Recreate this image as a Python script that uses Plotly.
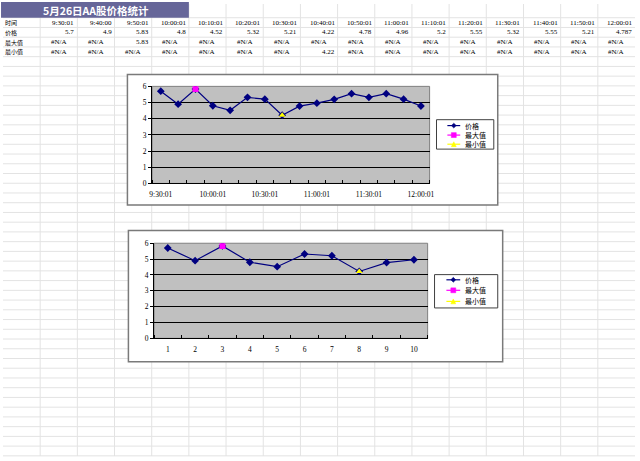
import plotly.graph_objects as go

# ---------------- data ----------------
title_text = "5月26日AA股价格统计"
row_labels = ["时间", "价格", "最大值", "最小值"]
times = ["9:30:01", "9:40:00", "9:50:01", "10:00:01", "10:10:01", "10:20:01",
         "10:30:01", "10:40:01", "10:50:01", "11:00:01", "11:10:01", "11:20:01",
         "11:30:01", "11:40:01", "11:50:01", "12:00:01"]
prices = [5.7, 4.9, 5.83, 4.8, 4.52, 5.32, 5.21, 4.22, 4.78, 4.96, 5.2, 5.55,
          5.32, 5.55, 5.21, 4.787]
max_vals = [None, None, 5.83, None, None, None, None, None, None, None, None,
            None, None, None, None, None]
min_vals = [None, None, None, None, None, None, None, 4.22, None, None, None,
            None, None, None, None, None]
series_names = ["价格", "最大值", "最小值"]
chart2_labels = [1, 2, 3, 4, 5, 6, 7, 8, 9, 10]
y_ticks = [0, 1, 2, 3, 4, 5, 6]

# ---------------- geometry helpers ----------------
W, H = 640, 461
def X(px):
    return px / W
def Y(py):
    return 1 - py / H

COLW = W / 17
ROW0 = 14.0
ROWH = 9.93

series_colors = ["#000080", "#FF00FF", "#FFFF00"]
series_symbols = ["diamond", "square", "triangle-up"]

CJK = "Noto Sans CJK SC"
NUMF = "Liberation Serif"

fig = go.Figure()

shapes = []
annotations = []

# spreadsheet grid
grid_col = "#e3e3e3"
for k in range(1, 17):
    shapes.append(dict(type="line", xref="paper", yref="paper", layer="below",
                       x0=X(k * COLW), x1=X(k * COLW), y0=Y(0), y1=Y(H),
                       line=dict(color=grid_col, width=1)))
k = 0
while ROW0 + k * ROWH <= H:
    yy = ROW0 + k * ROWH
    shapes.append(dict(type="line", xref="paper", yref="paper", layer="below",
                       x0=0, x1=1, y0=Y(yy), y1=Y(yy),
                       line=dict(color=grid_col, width=1)))
    k += 1

# title bar: merged cell A1:E1
shapes.append(dict(type="rect", xref="paper", yref="paper", layer="above",
                   x0=X(-2), x1=X(5 * COLW), y0=Y(-2), y1=Y(ROW0),
                   fillcolor="#666699", line=dict(width=0)))
annotations.append(dict(text="<b>" + title_text + "</b>", xref="paper", yref="paper",
                        x=X(2.5 * COLW), y=Y(ROW0 / 2), showarrow=False,
                        xanchor="center", yanchor="middle",
                        font=dict(family=CJK, size=10.5, color="white")))

# table text
def row_y(r):
    return Y(ROW0 + ROWH * (r + 0.5))

def fmt(v):
    return "#N/A" if v is None else ("%g" % v)

rows = [times, [fmt(v) for v in prices], [fmt(v) for v in max_vals],
        [fmt(v) for v in min_vals]]
for r, lab in enumerate(row_labels):
    annotations.append(dict(text=lab, xref="paper", yref="paper", x=X(0), y=row_y(r),
                            showarrow=False, xanchor="left", yanchor="middle",
                            font=dict(family=CJK, size=6, color="black")))
    for c, txt in enumerate(rows[r]):
        left = (c + 1) * COLW
        right = (c + 2) * COLW
        if txt == "#N/A":
            xa, xx = "center", X((left + right) / 2)
        else:
            xa, xx = "right", X(right - 1)
        annotations.append(dict(text=txt, xref="paper", yref="paper", x=xx, y=row_y(r),
                                showarrow=False, xanchor=xa, yanchor="middle",
                                font=dict(family=NUMF, size=7, color="black")))

# chart frames and plot areas
charts = [
    dict(frame=(126, 72, 501, 205), plot=(151, 84, 432, 183),
         legend=(439, 118, 497, 148), items=(124, 133.7, 143), key=(450, 463), tx=466),
    dict(frame=(127, 231, 506, 365), plot=(153, 244, 430, 341),
         legend=(437, 276, 501, 310), items=(281.3, 292, 303.3), key=(449, 463), tx=466),
]
for ch in charts:
    x0, y0, x1, y1 = ch["frame"]
    shapes.append(dict(type="rect", xref="paper", yref="paper", layer="below",
                       x0=X(x0), x1=X(x1), y0=Y(y0), y1=Y(y1),
                       fillcolor="white", line=dict(color="#7a7a7a", width=1.5)))
    px0, py0, px1, py1 = ch["plot"]
    shapes.append(dict(type="rect", xref="paper", yref="paper", layer="below",
                       x0=X(px0), x1=X(px1), y0=Y(py0), y1=Y(py1),
                       fillcolor="#c0c0c0", line=dict(color="#808080", width=1)))
    lx0, ly0, lx1, ly1 = ch["legend"]
    shapes.append(dict(type="rect", xref="paper", yref="paper", layer="below",
                       x0=X(lx0), x1=X(lx1), y0=Y(ly0), y1=Y(ly1),
                       fillcolor="white", line=dict(color="#404040", width=1)))
    ka, kb = ch["key"]
    kc = (ka + kb) / 2
    for i, name in enumerate(series_names):
        iy = ch["items"][i]
        col = series_colors[i]
        shapes.append(dict(type="line", xref="paper", yref="paper", layer="below",
                           x0=X(ka), x1=X(kb), y0=Y(iy), y1=Y(iy),
                           line=dict(color=col, width=1.2)))
        s = 2.5
        if series_symbols[i] == "diamond":
            pts = [(kc - s, iy), (kc, iy - s), (kc + s, iy), (kc, iy + s)]
        elif series_symbols[i] == "square":
            pts = [(kc - s, iy - s), (kc + s, iy - s), (kc + s, iy + s), (kc - s, iy + s)]
        else:
            pts = [(kc - s, iy + s), (kc, iy - s), (kc + s, iy + s)]
        path = "M " + " L ".join("%f,%f" % (X(a), Y(b)) for a, b in pts) + " Z"
        shapes.append(dict(type="path", xref="paper", yref="paper", layer="below",
                           path=path, fillcolor=col, line=dict(color=col, width=0.5)))
        annotations.append(dict(text=name, xref="paper", yref="paper", x=X(ch["tx"]),
                                y=Y(iy), showarrow=False, xanchor="left", yanchor="middle",
                                font=dict(family=CJK, size=7, color="black")))

# ---------------- traces ----------------
idx = list(range(len(prices)))
n2 = len(chart2_labels)
data_sets = [
    ("x", "y", idx, [prices, max_vals, min_vals]),
    ("x2", "y2", chart2_labels, [prices[:n2], max_vals[:n2], min_vals[:n2]]),
]
for xa, ya, xs, ys_list in data_sets:
    for i, ys in enumerate(ys_list):
        fig.add_trace(go.Scatter(
            x=xs, y=ys, xaxis=xa, yaxis=ya, name=series_names[i],
            mode="lines+markers", showlegend=False,
            line=dict(color=series_colors[i], width=1.2),
            marker=dict(symbol=series_symbols[i], size=6, color=series_colors[i],
                        line=dict(width=0))))

axis_font = dict(family=NUMF, size=7.5, color="black")

def yaxis_cfg(p):
    return dict(domain=[Y(p[3]), Y(p[1])], range=[0, 6], tickvals=y_ticks,
                showgrid=True, gridcolor="black", gridwidth=1, zeroline=False,
                showline=True, linecolor="black", linewidth=1,
                ticks="outside", ticklen=3, tickcolor="black", tickfont=axis_font,
                fixedrange=True)

p1 = charts[0]["plot"]
p2 = charts[1]["plot"]
label_idx = idx[::3]
fig.update_layout(
    xaxis=dict(domain=[X(p1[0]), X(p1[2])], anchor="y", range=[-0.5, len(prices) - 0.5],
               tickmode="array", tickvals=label_idx, ticktext=[times[i] for i in label_idx],
               ticks="", showgrid=False, zeroline=False, showline=True,
               linecolor="black", linewidth=1, tickfont=axis_font, ticklabelstandoff=4,
               minor=dict(ticks="inside", ticklen=3, tickcolor="black", tick0=0.5, dtick=1,
                          showgrid=False),
               fixedrange=True),
    yaxis=dict(anchor="x", **yaxis_cfg(p1)),
    xaxis2=dict(domain=[X(p2[0]), X(p2[2])], anchor="y2", range=[0.5, n2 + 0.5],
                tickmode="array", tickvals=chart2_labels, ticktext=[str(v) for v in chart2_labels],
                ticks="", showgrid=False, zeroline=False, showline=True,
                linecolor="black", linewidth=1, tickfont=axis_font, ticklabelstandoff=4,
                minor=dict(ticks="inside", ticklen=3, tickcolor="black", tick0=0.5, dtick=1,
                           showgrid=False),
                fixedrange=True),
    yaxis2=dict(anchor="x2", **yaxis_cfg(p2)),
    shapes=shapes,
    annotations=annotations,
    width=W, height=H, autosize=False,
    margin=dict(l=0, r=0, t=0, b=0, pad=0),
    paper_bgcolor="white",
    plot_bgcolor="rgba(0,0,0,0)",
    showlegend=False,
)

fig.write_html("out.html", config={"displayModeBar": False},
               post_script="document.body.style.margin='0';document.body.style.overflow='hidden';")
